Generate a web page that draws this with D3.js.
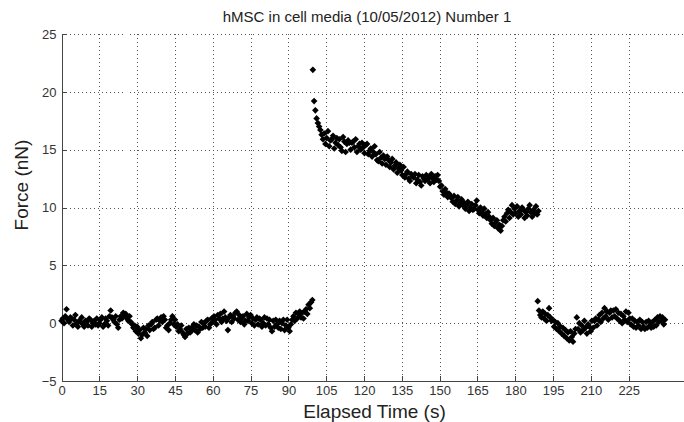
<!DOCTYPE html>
<html>
<head>
<meta charset="utf-8">
<script src="https://cdn.jsdelivr.net/npm/d3@7"></script>
<style>
  body { margin: 0; background: #fff; }
  svg { display: block; font-family: "Liberation Sans", Arial, sans-serif; }
  .grid line { stroke: #555; stroke-dasharray: 1,3; stroke-width: 1; shape-rendering: crispEdges; }
  .axis path, .axis line { stroke: #444; shape-rendering: crispEdges; }
  .axis text { fill: #333; font-size: 13px; }
</style>
</head>
<body>
<div id="chart"></div>
<script>
const width = 684;
const height = 422;

const chartTitle = "hMSC in cell media (10/05/2012) Number 1";
const xLabel = "Elapsed Time (s)";
const yLabel = "Force (nN)";
const xTicks = [0, 15, 30, 45, 60, 75, 90, 105, 120, 135, 150, 165, 180, 195, 210, 225];
const yTicks = [-5, 0, 5, 10, 15, 20, 25];

// sampling of the recorder (s)
const sampleStep = 0.5;

// before indentation, t = 0 .. 99.5 s
const baselineStart = 0;
const baselineForce = [
  0.2, 0.4, 0.0, 0.6, 1.2, 0.3, 0.1, 0.5, 0.4, -0.2,
  0.3, 0.7, 0.0, -0.3, 0.2, 0.1, 0.5, -0.1, -0.3, 0.2,
  0.1, -0.2, 0.4, 0.3, -0.3, 0.0, 0.2, -0.1, 0.4, -0.2,
  0.0, 0.3, 0.5, -0.3, -0.1, 0.4, 0.2, -0.2, 0.6, 1.1,
  0.5, 0.3, 0.1, 0.6, -0.1, -0.4, 0.3, 0.6, 0.4, 0.9,
  0.7, 0.8, 0.4, 0.2, 0.6, 0.1, -0.1, -0.4, -0.2, -0.7,
  -0.3, -0.9, -0.6, -1.3, -1.0, -0.4, -0.8, -0.5, -1.1, -0.2,
  -0.6, -0.1, 0.1, -0.5, -0.4, 0.3, 0.4, -0.2, 0.2, 0.5,
  0.1, 0.6, 0.3, -0.4, -0.2, -0.6, 0.0, 0.3, 0.6, -0.1,
  0.3, -0.3, -0.1, -0.7, -0.5, -0.2, -0.8, -1.0, -1.2, -0.5,
  -0.9, -0.4, -0.8, -0.7, -0.3, -0.1, -0.6, -0.2, -0.8, -0.3,
  -0.5, 0.1, -0.4, 0.0, -0.3, 0.2, 0.3, -0.4, -0.1, 0.4,
  0.1, 0.6, 0.3, -0.1, 0.7, 0.4, 0.8, 0.1, 0.4, 1.0,
  0.5, 0.2, -0.6, 0.5, 0.7, 0.1, 0.6, 0.4, 0.9, 1.0,
  0.3, 0.7, 0.1, 0.4, 0.6, -0.1, 0.2, 0.8, 0.2, 0.5,
  0.7, 0.0, 0.4, -0.2, 0.3, 0.5, -0.1, 0.4, 0.3, -0.3,
  0.0, 0.5, -0.2, 0.4, -0.1, 0.3, -0.4, -0.7, 0.2, -0.3,
  0.3, -0.1, -0.4, 0.2, -0.5, 0.0, 0.3, -0.6, -0.2, 0.3,
  -0.4, -0.7, -0.1, 0.3, 0.6, 0.2, 0.9, 0.4, 0.8, 1.0,
  0.5, 0.9, 0.4, 1.0, 1.2, 0.8, 1.6, 1.3, 1.8, 2.0
];

// loaded phase, t = 99.7 .. 189.2 s
const loadStart = 99.7;
const loadForce = [
  21.9, 19.2, 18.4, 17.7, 17.3, 17.0, 16.7, 16.3, 15.9, 16.4,
  15.5, 16.0, 16.6, 15.3, 15.8, 15.9, 16.2, 15.1, 15.6, 16.0,
  15.4, 15.9, 15.2, 14.9, 16.1, 15.7, 14.8, 15.5, 15.8, 15.6,
  15.0, 15.6, 15.7, 15.2, 15.9, 14.8, 15.3, 15.5, 15.0, 15.6,
  15.2, 14.7, 15.4, 15.5, 14.6, 14.9, 15.1, 14.4, 14.8, 15.3,
  14.6, 14.1, 14.0, 14.8, 14.3, 13.8, 14.5, 14.2, 13.7, 14.4,
  14.1, 13.5, 13.9, 14.2, 13.3, 13.6, 13.9, 13.0, 13.4, 13.7,
  13.2, 12.8, 13.5, 12.6, 12.9, 13.1, 12.5, 12.3, 12.9, 12.7,
  12.6, 12.9, 12.1, 12.4, 12.8, 12.2, 11.9, 12.7, 12.5, 12.3,
  12.8, 12.4, 12.6, 12.1, 12.9, 12.5, 12.2, 12.7, 12.4, 12.8,
  12.3, 11.8, 11.9, 11.4, 11.1, 11.6, 11.3, 10.9, 11.2, 11.0,
  10.8, 10.5, 11.0, 10.3, 10.6, 10.9, 10.1, 10.4, 10.7, 10.2,
  10.4, 9.9, 10.2, 10.5, 9.7, 10.0, 10.3, 9.8, 9.9, 10.2,
  10.6, 9.8, 9.5, 10.0, 9.6, 9.3, 9.9, 9.4, 9.1, 9.6,
  9.2, 8.9, 8.6, 9.1, 8.4, 8.7, 8.9, 8.2, 8.5, 8.0,
  8.4, 8.9, 9.2, 8.8, 9.5, 9.8, 9.1, 9.6, 10.2, 9.4,
  9.9, 9.5, 10.1, 9.2, 9.7, 9.4, 10.0, 9.8, 9.1, 9.6,
  9.3, 9.9, 10.2, 9.6, 9.2, 9.8, 9.5, 10.1, 9.4, 9.7
];

// after release, t = 188.9 .. 239.4 s
const releaseStart = 188.9;
const releaseForce = [
  1.9, 1.1, 0.7, 0.5, 1.0, 0.4, 0.8, 0.2, 0.7, 1.3,
  0.5, 0.2, 0.3, -0.3, 0.1, -0.5, 0.0, -0.7, -0.3, -0.9,
  -0.4, -1.1, -0.6, -1.3, -0.8, -1.5, -0.7, -1.2, -1.6, -0.9,
  -0.5, 0.5, -0.5, 0.0, -0.8, -0.2, -0.6, 0.2, -0.4, -0.9,
  -0.1, -0.3, -0.7, 0.2, -0.4, 0.2, 0.4, -0.2, 0.3, 0.7,
  0.1, 0.9, 0.4, 1.3, 0.6, 1.0, 0.3, 0.9, 1.1, 0.5,
  1.1, 0.6, 1.2, 0.4, 0.9, 0.2, 0.8, 0.0, 0.6, 0.3,
  1.0, 0.1, 0.9, 0.4, -0.1, 0.4, -0.3, 0.2, -0.4, 0.1,
  -0.2, 0.3, -0.5, 0.1, -0.3, -0.5, 0.1, -0.4, 0.2, -0.2,
  -0.4, 0.1, -0.3, 0.3, -0.2, 0.5, 0.1, 0.6, 0.2, 0.5,
  -0.1, 0.3
];

const segments = [
  { start: baselineStart, force: baselineForce },
  { start: loadStart, force: loadForce },
  { start: releaseStart, force: releaseForce },
];

const points = segments.flatMap(seg =>
  seg.force.map((f, i) => ({ t: seg.start + i * sampleStep, f }))
);

const margin = { top: 34, left: 61.5, bottom: 381 };

const x = d3.scaleLinear().domain([0, 250]).range([margin.left, margin.left + 250 * 2.521]);
const y = d3.scaleLinear().domain([-5, 25]).range([margin.bottom, margin.top]);

const svg = d3.select("#chart")
  .append("svg")
  .attr("width", width)
  .attr("height", height);

const grid = svg.append("g").attr("class", "grid");

grid.selectAll(".vgrid")
  .data(xTicks.filter(d => d > 0))
  .join("line")
  .attr("class", "vgrid")
  .attr("x1", d => Math.round(x(d)) + 0.5)
  .attr("x2", d => Math.round(x(d)) + 0.5)
  .attr("y1", y(25))
  .attr("y2", y(-5));

grid.selectAll(".hgrid")
  .data(yTicks.filter(d => d > -5))
  .join("line")
  .attr("class", "hgrid")
  .attr("x1", x(0))
  .attr("x2", width)
  .attr("y1", d => Math.round(y(d)) + 0.5)
  .attr("y2", d => Math.round(y(d)) + 0.5);

const xAxis = svg.append("g")
  .attr("class", "axis")
  .attr("transform", `translate(0,${margin.bottom})`)
  .call(d3.axisBottom(x).tickValues(xTicks).tickSizeInner(-5).tickSizeOuter(0).tickPadding(5));

const yAxis = svg.append("g")
  .attr("class", "axis")
  .attr("transform", `translate(${margin.left},0)`)
  .call(d3.axisLeft(y).tickValues(yTicks).tickSizeInner(-5).tickSizeOuter(0).tickPadding(5));

xAxis.select(".domain").attr("d", `M${x(0)},0.5H${width}`);

const marker = d3.symbol().type(d3.symbolSquare).size(22);

svg.append("g")
  .selectAll("path")
  .data(points)
  .join("path")
  .attr("d", marker)
  .attr("fill", "#000")
  .attr("transform", d => `translate(${x(d.t)},${y(d.f)}) rotate(45)`);

svg.append("text")
  .attr("x", 367)
  .attr("y", 22)
  .attr("text-anchor", "middle")
  .attr("fill", "#222")
  .style("font-size", "15px")
  .text(chartTitle);

svg.append("text")
  .attr("x", 374.5)
  .attr("y", 418)
  .attr("text-anchor", "middle")
  .attr("fill", "#222")
  .style("font-size", "19px")
  .text(xLabel);

svg.append("text")
  .attr("transform", `translate(28,185) rotate(-90)`)
  .attr("text-anchor", "middle")
  .attr("fill", "#222")
  .style("font-size", "19px")
  .text(yLabel);
</script>
</body>
</html>
